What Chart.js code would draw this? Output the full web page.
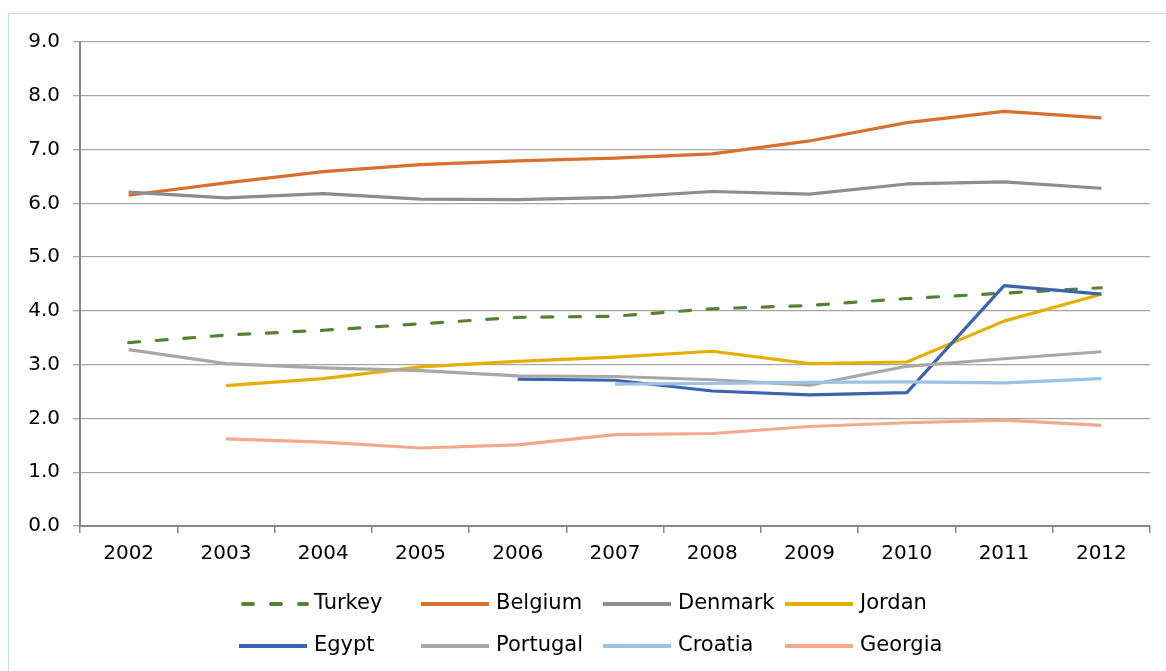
<!DOCTYPE html>
<html>
<head>
<meta charset="utf-8">
<title>Line chart 2002–2012</title>
<script src="https://cdn.jsdelivr.net/npm/chart.js@4/dist/chart.umd.min.js"></script>
<style>
  html, body { margin: 0; padding: 0; background: #ffffff; }
  #wrap { width: 1166px; height: 671px; }
</style>
</head>
<body>
<div id="wrap"><canvas id="c" width="1166" height="671"></canvas></div>
<script>
// Categories (years) and value-axis tick labels
const years = ['2002','2003','2004','2005','2006','2007','2008','2009','2010','2011','2012'];
const yTicks = [0, 1, 2, 3, 4, 5, 6, 7, 8, 9];

// Series values (null = no data for that year)
const seriesNames = ['Turkey','Belgium','Denmark','Jordan','Egypt','Portugal','Croatia','Georgia'];
const turkey   = [3.41, 3.55, 3.64, 3.76, 3.88, 3.90, 4.04, 4.10, 4.23, 4.33, 4.43];
const belgium  = [6.15, 6.38, 6.59, 6.72, 6.79, 6.84, 6.92, 7.16, 7.50, 7.71, 7.59];
const denmark  = [6.21, 6.10, 6.18, 6.08, 6.07, 6.11, 6.22, 6.17, 6.36, 6.40, 6.28];
const jordan   = [null, 2.61, 2.74, 2.96, 3.06, 3.14, 3.25, 3.02, 3.05, 3.81, 4.31];
const egypt    = [null, null, null, null, 2.73, 2.71, 2.51, 2.44, 2.48, 4.47, 4.31];
const portugal = [3.28, 3.02, 2.94, 2.89, 2.79, 2.78, 2.72, 2.62, 2.97, 3.11, 3.24];
const croatia  = [null, null, null, null, null, 2.64, 2.65, 2.67, 2.68, 2.66, 2.74];
const georgia  = [null, 1.62, 1.56, 1.45, 1.51, 1.70, 1.72, 1.85, 1.92, 1.97, 1.87];

const seriesValues = [turkey, belgium, denmark, jordan, egypt, portugal, croatia, georgia];
const seriesColors = ['#548235', '#d8702e', '#8d8d8d', '#e5ae00', '#3a64ae', '#a8a8a8', '#9cc2e5', '#f2aa8a'];
const seriesDashes = [[11, 16.6], [], [], [], [], [], [], []];

const FONT = 'DejaVu Sans';

const datasets = seriesNames.map((name, i) => ({
  label: name,
  data: seriesValues[i],
  borderColor: seriesColors[i],
  backgroundColor: seriesColors[i],
  borderWidth: 3.2,
  borderDash: seriesDashes[i],
  borderCapStyle: seriesDashes[i].length ? 'round' : 'butt',
  borderJoinStyle: 'round',
  pointRadius: 0,
  pointHoverRadius: 0,
  tension: 0,
  spanGaps: false,
  fill: false,
  // later series are painted over earlier ones
  order: seriesNames.length - i
}));

// Frame around the chart and the two-row legend underneath
const framePlugin = {
  id: 'frame',
  beforeDraw(chart) {
    const ctx = chart.ctx;
    ctx.save();
    ctx.fillStyle = '#ffffff';
    ctx.fillRect(0, 0, chart.width, chart.height);
    ctx.strokeStyle = '#c6d9ee';
    ctx.lineWidth = 1;
    ctx.strokeRect(8.5, 13.5, 1400, 900);
    ctx.restore();
  }
};

const legendPlugin = {
  id: 'gridLegend',
  afterDraw(chart) {
    const ctx = chart.ctx;
    const colX = [239, 421, 603, 785];
    const rowY = [604, 646];
    ctx.save();
    chart.data.datasets.forEach((ds, i) => {
      const x = colX[i % 4];
      const y = rowY[Math.floor(i / 4)];
      ctx.beginPath();
      ctx.strokeStyle = ds.borderColor;
      ctx.lineWidth = 4;
      ctx.lineCap = ds.borderDash.length ? 'round' : 'butt';
      ctx.setLineDash(ds.borderDash.length ? [10, 18] : []);
      ctx.moveTo(ds.borderDash.length ? x + 4 : x, y);
      ctx.lineTo(x + 68, y);
      ctx.stroke();
      ctx.setLineDash([]);
      ctx.fillStyle = '#000000';
      ctx.font = '21px "' + FONT + '"';
      ctx.textAlign = 'left';
      ctx.textBaseline = 'middle';
      ctx.fillText(ds.label, x + 75, y);
    });
    ctx.restore();
  }
};

new Chart(document.getElementById('c'), {
  type: 'line',
  data: { labels: years, datasets },
  options: {
    responsive: false,
    devicePixelRatio: 1,
    animation: false,
    events: [],
    layout: { padding: { top: 42, right: 16, left: 0, bottom: 0 } },
    plugins: {
      legend: { display: false },
      tooltip: { enabled: false },
      title: { display: false }
    },
    scales: {
      x: {
        type: 'category',
        offset: true,
        afterFit(scale) { scale.height = 145; },
        grid: {
          offset: true,
          drawOnChartArea: false,
          drawTicks: true,
          tickLength: 7,
          color: '#878787',
          lineWidth: 1.5
        },
        border: { display: true, color: '#878787', width: 2 },
        ticks: {
          color: '#000000',
          font: { family: FONT, size: 20 },
          padding: 9,
          maxRotation: 0,
          autoSkip: false
        }
      },
      y: {
        min: 0,
        max: 9,
        afterFit(scale) { scale.width = 80; },
        afterBuildTicks(scale) { scale.ticks = yTicks.map(v => ({ value: v })); },
        grid: {
          drawTicks: true,
          tickLength: 7,
          color: '#a6a6a6',
          lineWidth: 1.3
        },
        border: { display: true, color: '#878787', width: 2 },
        ticks: {
          color: '#000000',
          font: { family: FONT, size: 20 },
          padding: 13,
          callback: v => Number(v).toFixed(1)
        }
      }
    }
  },
  plugins: [framePlugin, legendPlugin]
});
</script>
</body>
</html>
